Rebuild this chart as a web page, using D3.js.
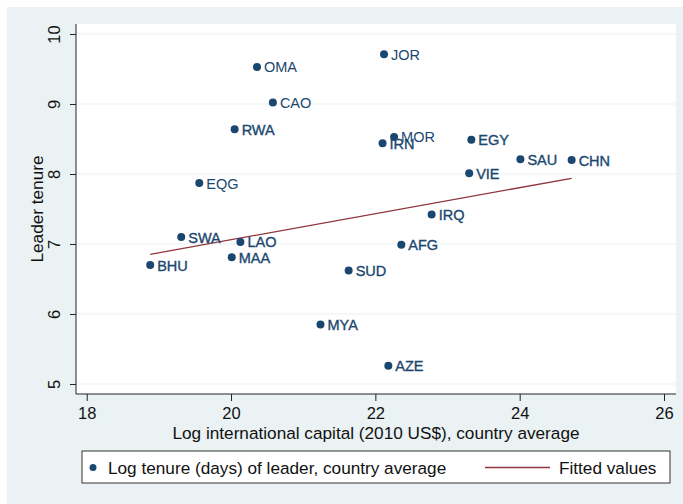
<!DOCTYPE html>
<html>
<head>
<meta charset="utf-8">
<script src="https://cdn.jsdelivr.net/npm/d3@7"></script>
<style>
  html, body { margin: 0; padding: 0; background: #ffffff; }
  text { font-family: "Liberation Sans", Arial, Helvetica, sans-serif; }
</style>
</head>
<body>
<svg id="chart" width="683" height="504"></svg>
<script>
// ---- data ----
const countries = ["JOR","OMA","CAO","RWA","MOR","IRN","EGY","SAU","CHN","VIE","EQG","IRQ","SWA","LAO","AFG","MAA","BHU","SUD","MYA","AZE"];
const logCapital = [22.12,20.36,20.58,20.05,22.26,22.10,23.33,24.01,24.72,23.30,19.56,22.78,19.31,20.13,22.36,20.01,18.88,21.63,21.24,22.18];
const logTenure  = [9.71, 9.53, 9.02, 8.64, 8.53, 8.44, 8.49, 8.21, 8.20, 8.01, 7.87, 7.42, 7.10, 7.03, 6.99, 6.81, 6.70, 6.62, 5.85, 5.26];
const fittedX = [18.88, 24.72];
const fittedY = [6.853, 7.939];
const xTicks = [18, 20, 22, 24, 26];
const yTicks = [5, 6, 7, 8, 9, 10];
const xTitle = "Log international capital (2010 US$), country average";
const yTitle = "Leader tenure";
const legendLabels = ["Log tenure (days) of leader, country average", "Fitted values"];
// labels drawn darker in the reference (overplotted)
const heavyLabels = ["IRN","EGY","SAU","CHN","VIE","IRQ","LAO","AFG","MAA","BHU","SUD","AZE","RWA","SWA","MYA"];

// ---- styling ----
const navy = "#1a476f", maroon = "#90353b", bg = "#eaf2f3";
const svg = d3.select("#chart");
const W = 683, H = 504;
const plot = {left: 76, right: 676, top: 24, bottom: 394};

svg.append("rect").attr("x", 7).attr("y", 7).attr("width", W - 7).attr("height", H - 7).attr("fill", bg);
svg.append("rect").attr("x", plot.left).attr("y", plot.top)
  .attr("width", plot.right - plot.left).attr("height", plot.bottom - plot.top).attr("fill", "#fff");

const x = d3.scaleLinear().domain([18, 26]).range([86.7, 664]);
const y = d3.scaleLinear().domain([5, 10]).range([384, 34]);

// gridlines
svg.append("g").selectAll("line").data(yTicks).join("line")
  .attr("x1", plot.left).attr("x2", plot.right)
  .attr("y1", d => y(d)).attr("y2", d => y(d))
  .attr("stroke", bg).attr("stroke-width", 1.2);

// x axis
const xAxis = svg.append("g").attr("transform", `translate(0,${plot.bottom})`)
  .call(d3.axisBottom(x).tickValues(xTicks).tickSize(7).tickPadding(4).tickFormat(d3.format("d")));
xAxis.select(".domain").remove();
xAxis.selectAll("line").attr("stroke", "#222");
xAxis.selectAll("text").attr("font-size", 16.5).attr("fill", "#111")
  .attr("font-family", "Liberation Sans, Arial, sans-serif")
  .attr("dy", null).attr("y", 25);
svg.append("line").attr("x1", plot.left).attr("x2", plot.right)
  .attr("y1", plot.bottom).attr("y2", plot.bottom).attr("stroke", "#222");

// y axis
const yAxis = svg.append("g").attr("transform", `translate(${plot.left},0)`)
  .call(d3.axisLeft(y).tickValues(yTicks).tickSize(6).tickFormat(d3.format("d")));
yAxis.select(".domain").remove();
yAxis.selectAll("line").attr("stroke", "#222");
yAxis.selectAll("text")
  .attr("font-size", 16.5).attr("fill", "#111")
  .attr("font-family", "Liberation Sans, Arial, sans-serif")
  .attr("text-anchor", "middle").attr("dy", null).attr("x", null)
  .attr("transform", "translate(-16,0) rotate(-90)");
svg.append("line").attr("x1", plot.left).attr("x2", plot.left)
  .attr("y1", plot.top).attr("y2", plot.bottom).attr("stroke", "#222");

// axis titles
svg.append("text").attr("x", 376).attr("y", 439)
  .attr("text-anchor", "middle").attr("font-size", 17.2).attr("fill", "#111").text(xTitle);
svg.append("text").attr("transform", `translate(43,${(34 + 384) / 2}) rotate(-90)`)
  .attr("text-anchor", "middle").attr("font-size", 17.2).attr("fill", "#111").text(yTitle);

// fitted line
svg.append("line")
  .attr("x1", x(fittedX[0])).attr("y1", y(fittedY[0]))
  .attr("x2", x(fittedX[1])).attr("y2", y(fittedY[1]))
  .attr("stroke", maroon).attr("stroke-width", 1.3);

// points
const pts = countries.map((c, i) => ({c, x: logCapital[i], y: logTenure[i]}));
const g = svg.append("g");
g.selectAll("circle").data(pts).join("circle")
  .attr("cx", d => x(d.x)).attr("cy", d => y(d.y)).attr("r", 4).attr("fill", navy);
g.selectAll("text").data(pts).join("text")
  .attr("x", d => x(d.x) + 7).attr("y", d => y(d.y) + 5.5)
  .attr("font-size", 14.5).attr("fill", navy)
  .attr("stroke", d => heavyLabels.includes(d.c) ? navy : "none")
  .attr("stroke-width", 0.35)
  .text(d => d.c);

// legend
svg.append("rect").attr("x", 82).attr("y", 451).attr("width", 588).attr("height", 32)
  .attr("fill", "#fff").attr("stroke", "#333").attr("stroke-width", 1);
svg.append("circle").attr("cx", 93).attr("cy", 467.5).attr("r", 3.5).attr("fill", navy);
svg.append("text").attr("x", 108).attr("y", 473.5).attr("font-size", 17.2).attr("fill", "#111").text(legendLabels[0]);
svg.append("line").attr("x1", 485).attr("x2", 550).attr("y1", 467.5).attr("y2", 467.5)
  .attr("stroke", maroon).attr("stroke-width", 1.3);
svg.append("text").attr("x", 559).attr("y", 473.5).attr("font-size", 17.2).attr("fill", "#111").text(legendLabels[1]);
</script>
</body>
</html>
